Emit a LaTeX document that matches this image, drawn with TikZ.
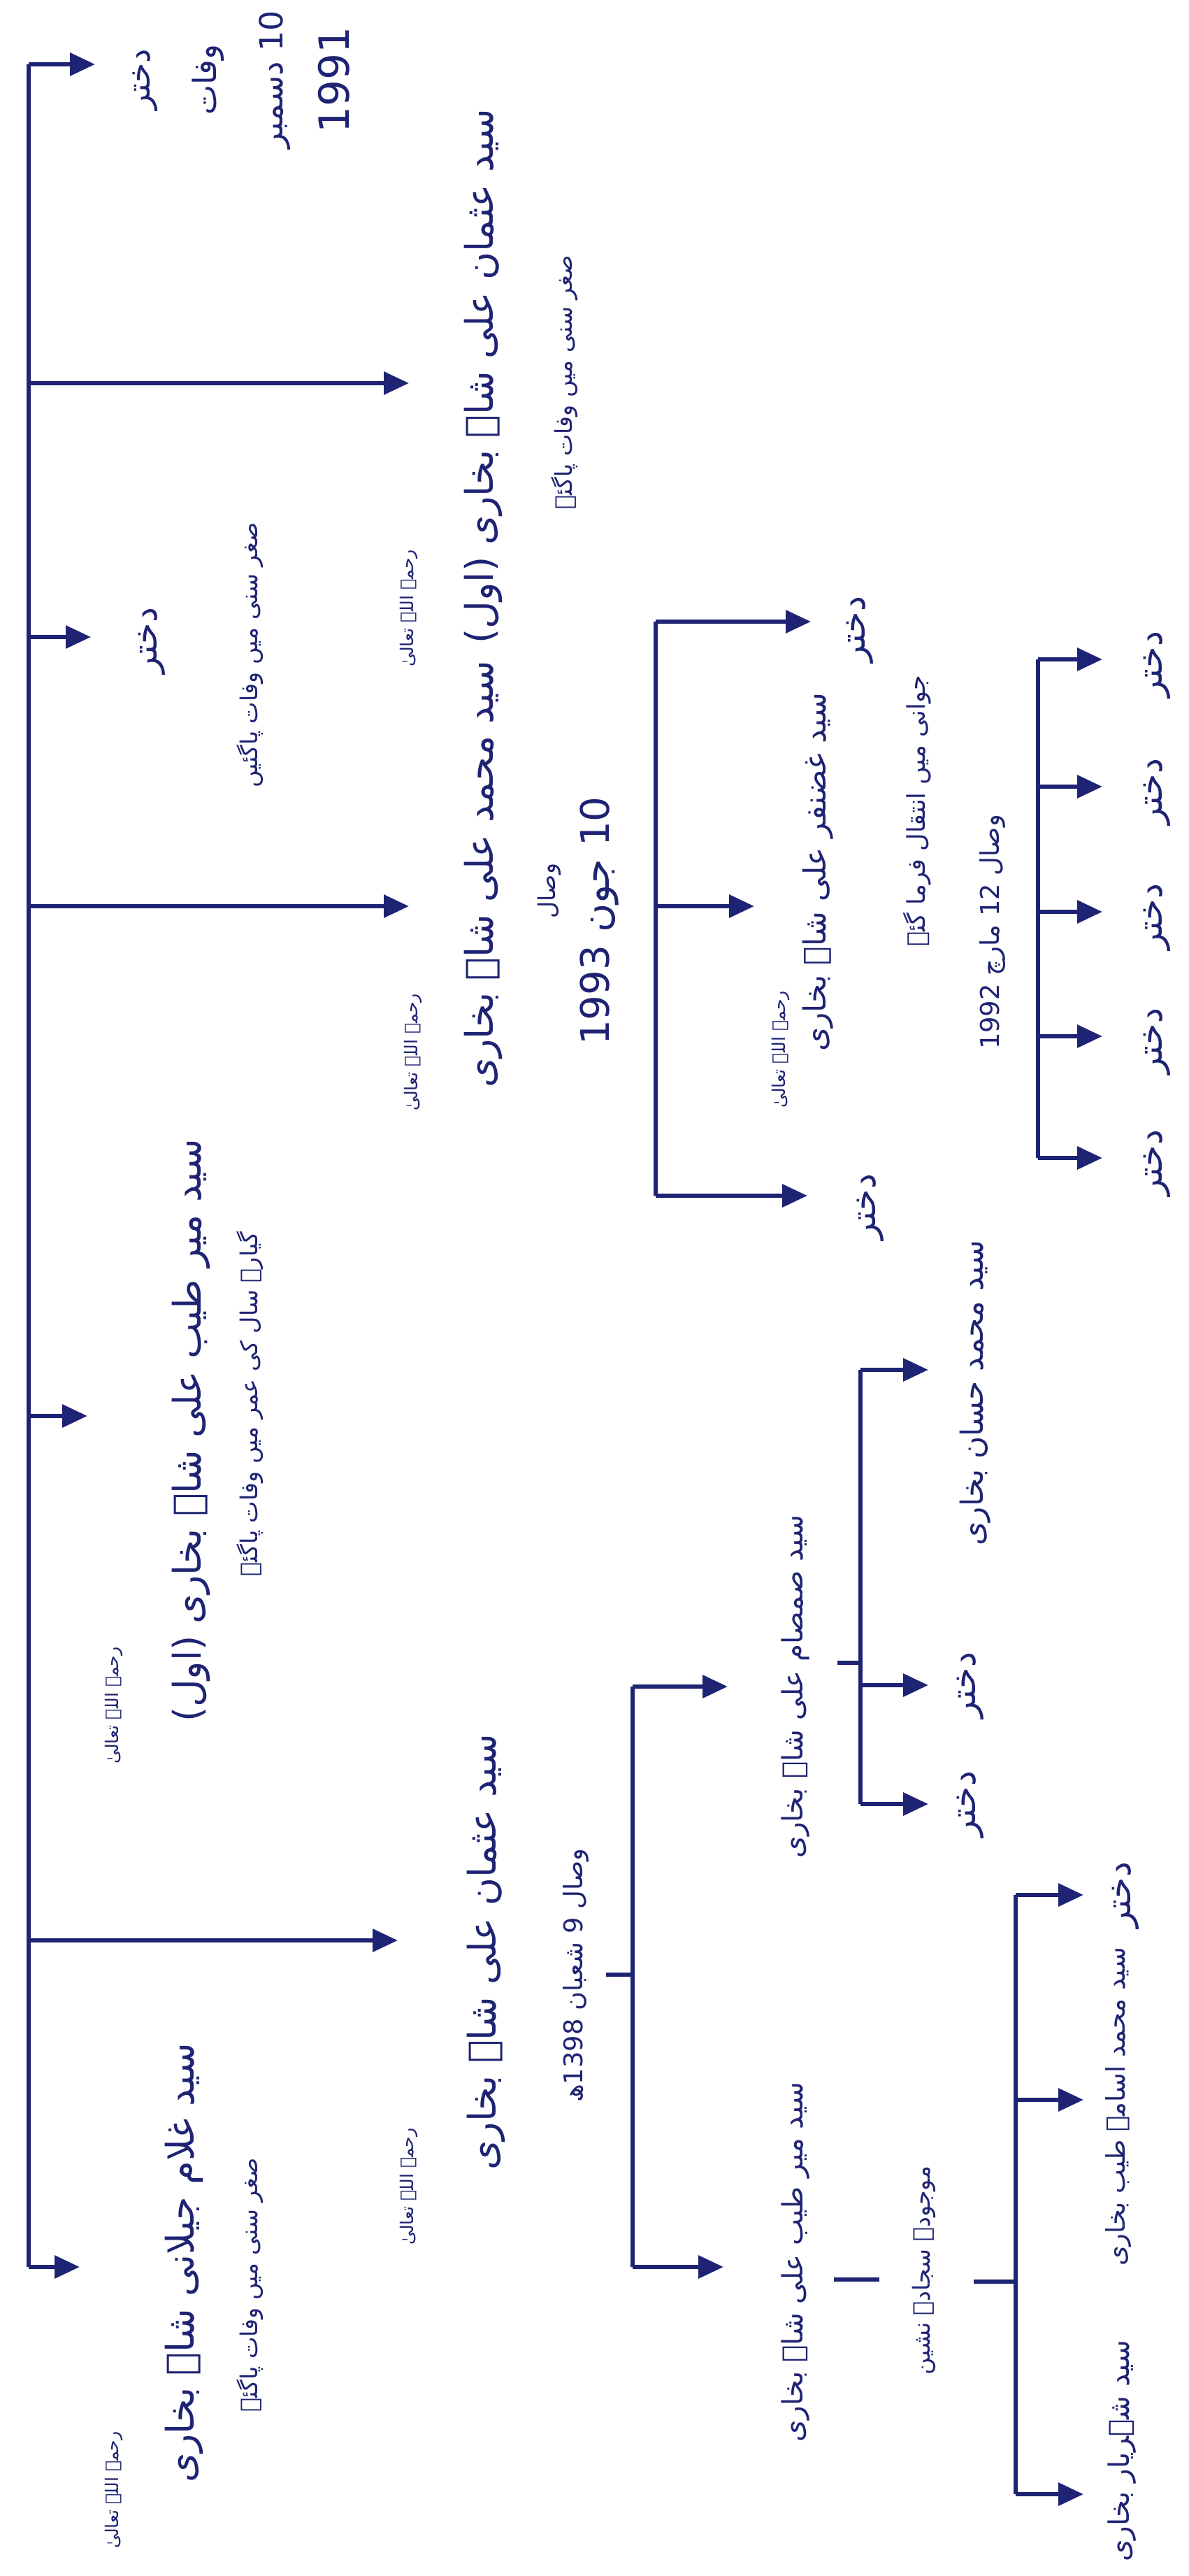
\documentclass[tikz,border=0pt]{standalone}
\usepackage{fontspec}
\usepackage{tikz}
\usetikzlibrary{arrows.meta}
\newfontfamily\urdu[Script=Arabic]{DejaVu Sans}
\TeXXeTstate=1
\definecolor{syahiNeela}{HTML}{1E2373}
\newcommand{\ur}[1]{\beginR #1\endR}

\tikzset{
  naam/.style={text=syahiNeela,font=\urdu\fontsize{15.5}{19}\selectfont,rotate=90,inner sep=0pt},
  naamChhota/.style={text=syahiNeela,font=\urdu\fontsize{12.5}{16}\selectfont,rotate=90,inner sep=0pt},
  zimni/.style={text=syahiNeela,font=\urdu\fontsize{9.5}{12}\selectfont,rotate=90,inner sep=0pt},
  lakab/.style={text=syahiNeela,font=\urdu\fontsize{7.2}{9}\selectfont,rotate=90,inner sep=0pt},
  dukhtar/.style={text=syahiNeela,font=\urdu\fontsize{14}{17}\selectfont,rotate=90,inner sep=0pt},
  tareekh/.style={text=syahiNeela,font=\urdu\fontsize{16}{20}\selectfont,rotate=90,inner sep=0pt},
  lakeer/.style={draw=syahiNeela,line width=1.8pt},
  teer/.style={lakeer,-{Triangle[length=3.6mm,width=3.2mm]}}
}

\begin{document}
\begin{tikzpicture}
\useasboundingbox[fill=white] (0,0) rectangle (17,-36.84);

% main trunk
\coordinate (j1) at (0.41,-0.92);
\coordinate (j2) at (0.41,-5.48);
\coordinate (j3) at (0.41,-9.11);
\coordinate (j4) at (0.41,-12.96);
\coordinate (j5) at (0.41,-20.25);
\coordinate (j6) at (0.41,-27.75);
\coordinate (j7) at (0.41,-32.42);
\draw[lakeer] (j1) -- (j7);

% first generation
\node[tareekh,align=center,font=\urdu\fontsize{13}{27}\selectfont] (n1) at (3.45,-1.14)
  {\ur{دختر}\\\ur{وفات}\\\ur{10 دسمبر}\\{\fontsize{17}{27}\selectfont 1991}};

\node[naam] (n2) at (6.91,-5.38) {\ur{سید عثمان علی شاہ بخاری (اول)}};
\node[lakab] (h2) at (5.85,-8.70) {\ur{رحمۃ اللہ تعالیٰ}};
\node[zimni] (s2) at (8.08,-5.47) {\ur{صغر سنی میں وفات پاگئے}};

\node[dukhtar] (n3) at (2.17,-9.16) {\ur{دختر}};
\node[zimni] (s3) at (3.58,-9.37) {\ur{صغر سنی میں وفات پاگئیں}};

\node[naam] (n4) at (6.91,-12.50) {\ur{سید محمد علی شاہ بخاری}};
\node[lakab] (h4) at (5.91,-15.05) {\ur{رحمۃ اللہ تعالیٰ}};
\node[zimni] (w4) at (7.86,-12.74) {\ur{وصال}};
\node[tareekh] (d4) at (8.57,-13.17) {\ur{10 جون 1993}};

\node[naam] (n5) at (2.73,-20.46) {\ur{سید میر طیب علی شاہ بخاری (اول)}};
\node[lakab] (h5) at (1.63,-24.39) {\ur{رحمۃ اللہ تعالیٰ}};
\node[zimni] (s5) at (3.58,-20.08) {\ur{گیارہ سال کی عمر میں وفات پاگئے}};

\node[naam] (n6) at (6.95,-27.92) {\ur{سید عثمان علی شاہ بخاری}};
\node[lakab] (h6) at (5.85,-31.27) {\ur{رحمۃ اللہ تعالیٰ}};
\node[zimni,font=\urdu\fontsize{10.5}{13}\selectfont] (s6) at (8.24,-28.25) {\ur{وصال 9 شعبان 1398ھ}};

\node[naam] (n7) at (2.63,-32.36) {\ur{سید غلام جیلانی شاہ بخاری}};
\node[lakab] (h7) at (1.63,-35.61) {\ur{رحمۃ اللہ تعالیٰ}};
\node[zimni] (s7) at (3.58,-32.68) {\ur{صغر سنی میں وفات پاگئے}};

\coordinate (t1) at (1.36,-0.92);
\coordinate (t2) at (5.85,-5.48);
\coordinate (t3) at (1.30,-9.11);
\coordinate (t4) at (5.85,-12.96);
\coordinate (t5) at (1.25,-20.25);
\coordinate (t6) at (5.69,-27.75);
\coordinate (t7) at (1.14,-32.42);
\draw[teer] (j1) -- (t1);
\draw[teer] (j2) -- (t2);
\draw[teer] (j3) -- (t3);
\draw[teer] (j4) -- (t4);
\draw[teer] (j5) -- (t5);
\draw[teer] (j6) -- (t6);
\draw[teer] (j7) -- (t7);

% children of n4
\coordinate (k1) at (9.38,-8.89);
\coordinate (k2) at (9.38,-12.96);
\coordinate (k3) at (9.38,-17.10);
\draw[lakeer] (k1) -- (k3);
\node[dukhtar] (c1) at (12.30,-9.00) {\ur{دختر}};
\node[naamChhota] (c2) at (11.70,-12.47) {\ur{سید غضنفر علی شاہ بخاری}};
\node[lakab] (hc2) at (11.17,-15.01) {\ur{رحمۃ اللہ تعالیٰ}};
\node[zimni,font=\urdu\fontsize{10}{12}\selectfont] (sc2) at (13.12,-11.60) {\ur{جوانی میں انتقال فرما گئے}};
\node[zimni,font=\urdu\fontsize{10.5}{13}\selectfont] (dc2) at (14.20,-13.33) {\ur{وصال 12 مارچ 1992}};
\node[dukhtar] (c3) at (12.45,-17.26) {\ur{دختر}};
\coordinate (u1) at (11.60,-8.89);
\coordinate (u2) at (10.79,-12.96);
\coordinate (u3) at (11.55,-17.10);
\draw[teer] (k1) -- (u1);
\draw[teer] (k2) -- (u2);
\draw[teer] (k3) -- (u3);

% daughters of c2
\coordinate (g1) at (14.85,-9.43);
\coordinate (g2) at (14.85,-11.25);
\coordinate (g3) at (14.85,-13.04);
\coordinate (g4) at (14.85,-14.82);
\coordinate (g5) at (14.85,-16.56);
\draw[lakeer] (g1) -- (g5);
\node[dukhtar] (b1) at (16.55,-9.50) {\ur{دختر}};
\node[dukhtar] (b2) at (16.55,-11.32) {\ur{دختر}};
\node[dukhtar] (b3) at (16.55,-13.11) {\ur{دختر}};
\node[dukhtar] (b4) at (16.55,-14.89) {\ur{دختر}};
\node[dukhtar] (b5) at (16.55,-16.63) {\ur{دختر}};
\draw[teer] (g1) -- (g1 -| 15.77,0);
\draw[teer] (g2) -- (g2 -| 15.77,0);
\draw[teer] (g3) -- (g3 -| 15.77,0);
\draw[teer] (g4) -- (g4 -| 15.77,0);
\draw[teer] (g5) -- (g5 -| 15.77,0);

% children of n6
\coordinate (m0) at (8.67,-28.24);
\coordinate (m1) at (9.05,-24.12);
\coordinate (mm) at (9.05,-28.24);
\coordinate (m2) at (9.05,-32.42);
\draw[lakeer] (m0) -- (mm);
\draw[lakeer] (m1) -- (m2);
\node[naamChhota,font=\urdu\fontsize{11.5}{14}\selectfont] (d1) at (11.38,-24.12) {\ur{سید صمصام علی شاہ بخاری}};
\node[naamChhota,font=\urdu\fontsize{11.5}{14}\selectfont] (d2) at (11.38,-32.35) {\ur{سید میر طیب علی شاہ بخاری}};
\node[zimni] (sd2) at (13.22,-32.47) {\ur{موجودہ سجادہ نشین}};
\draw[teer] (m1) -- (10.41,-24.12) coordinate (v1);
\draw[teer] (m2) -- (10.35,-32.42) coordinate (v2);
\draw[lakeer] (11.93,-32.60) -- (12.58,-32.60);

% children of d1
\coordinate (p0) at (11.98,-23.78);
\coordinate (p1) at (12.31,-19.59);
\coordinate (pm) at (12.31,-23.78);
\coordinate (p2) at (12.31,-24.10);
\coordinate (p3) at (12.31,-25.80);
\draw[lakeer] (p0) -- (pm);
\draw[lakeer] (p1) -- (p3);
\node[naamChhota] (e1) at (13.95,-19.92) {\ur{سید محمد حسان بخاری}};
\node[dukhtar] (e2) at (13.88,-24.10) {\ur{دختر}};
\node[dukhtar] (e3) at (13.88,-25.80) {\ur{دختر}};
\draw[teer] (p1) -- (p1 -| 13.28,0);
\draw[teer] (p2) -- (p2 -| 13.28,0);
\draw[teer] (p3) -- (p3 -| 13.28,0);

% children of d2
\coordinate (q0) at (13.93,-32.63);
\coordinate (q1) at (14.53,-27.10);
\coordinate (qm) at (14.53,-32.63);
\coordinate (q2) at (14.53,-30.03);
\coordinate (q3) at (14.53,-35.67);
\draw[lakeer] (q0) -- (qm);
\draw[lakeer] (q1) -- (q3);
\node[dukhtar] (f1) at (16.10,-27.10) {\ur{دختر}};
\node[naamChhota,font=\urdu\fontsize{10.5}{13}\selectfont] (f2) at (16.00,-30.13) {\ur{سید محمد اسامہ طیب بخاری}};
\node[naamChhota,font=\urdu\fontsize{11.5}{14}\selectfont] (f3) at (16.05,-35.05) {\ur{سید شہریار بخاری}};
\draw[teer] (q1) -- (q1 -| 15.50,0);
\draw[teer] (q2) -- (q2 -| 15.50,0);
\draw[teer] (q3) -- (q3 -| 15.50,0);
\end{tikzpicture}
\end{document}
